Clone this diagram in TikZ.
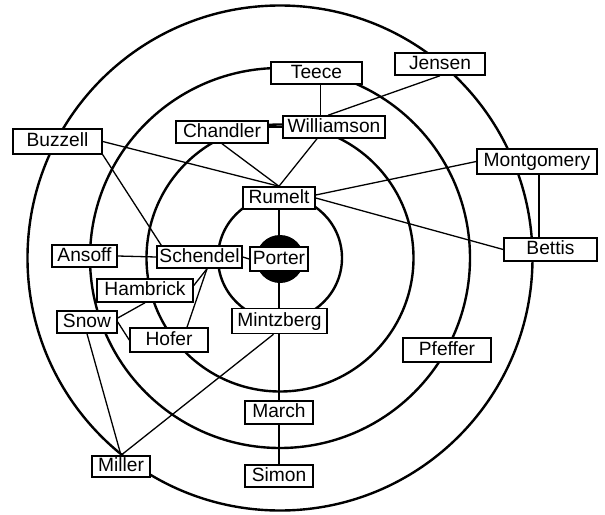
\documentclass[tikz,border=0pt]{standalone}
\usepackage{fontspec}
\setmainfont{Liberation Sans}
\begin{document}
\begin{tikzpicture}[x=0.5pt,y=-0.5pt,
  box/.style={draw,line width=0.75pt,fill=white,inner sep=0pt,
              minimum height=11pt,text height=7pt,text depth=2pt,
              font=\fontsize{9.6}{11}\selectfont},
  ring/.style={line width=1.2pt},
  link/.style={line width=0.65pt}]
  \useasboundingbox (0,0) rectangle (605,514);
  % the four circles and the black core
  \coordinate (ctr) at (280,258);
  \draw[ring] (ctr) circle[radius=31pt] (ctr) circle[radius=66.75pt]
              (ctr) circle[radius=95pt] (ctr) circle[radius=126.25pt];
  \fill (280,259) circle[radius=12pt];
  % names
  \node[box,minimum width=45.5pt] (teece) at (316.5,73) {Teece};
  \node[box,minimum width=45pt] (jensen) at (440,64) {Jensen};
  \node[box,minimum width=46pt] (chandler) at (222,132) {Chandler};
  \node[box,minimum width=51pt] (williamson) at (334,127) {Williamson};
  \node[box,minimum width=44.5pt,minimum height=12.5pt] (buzzell) at (57.5,141.5) {Buzzell};
  \node[box,minimum width=60pt,minimum height=12.5pt] (montgomery) at (537,161.5) {Montgomery};
  \node[box,minimum width=36pt] (rumelt) at (279,198) {Rumelt};
  \node[box,minimum width=46.5pt,minimum height=11.5pt] (bettis) at (550.5,249.5) {Bettis};
  \node[box,minimum width=32.5pt] (ansoff) at (84.5,256) {Ansoff};
  \node[box,minimum width=42.5pt] (schendel) at (199.5,257) {Schendel};
  \node[box,minimum width=29pt,minimum height=12pt] (porter) at (279,259) {Porter};
  \node[box,minimum width=48pt,minimum height=11.5pt] (hambrick) at (145,290.5) {Hambrick};
  \node[box,minimum width=30pt] (snow) at (87,322) {Snow};
  \node[box,minimum width=39pt,minimum height=12pt] (hofer) at (169,340) {Hofer};
  \node[box,minimum width=47.5pt,minimum height=12.5pt] (mintzberg) at (279.5,321) {Mintzberg};
  \node[box,minimum width=44pt,minimum height=12pt] (pfeffer) at (447,350) {Pfeffer};
  \node[box,minimum width=34pt,minimum height=11.5pt] (march) at (279,412.5) {March};
  \node[box,minimum width=29pt,minimum height=10.5pt] (miller) at (121,466.5) {Miller};
  \node[box,minimum width=34pt] (simon) at (279,476) {Simon};
  % links
  \draw[link] ([xshift=2pt]teece.south) -- ([xshift=2pt]teece.south |- williamson.north);
  \draw[link] (williamson.west) -- (williamson.west -| chandler.east);
  \draw[link] (jensen.south) -- ([xshift=-3pt]williamson.north);
  \draw[link] (chandler.south) -- (rumelt.north); \draw[link] ([xshift=-8.5pt]williamson.south) -- (rumelt.north);
  \draw[link] (buzzell.east) -- (rumelt.north); \draw[link] (buzzell.south east) -- ([xshift=2.5pt]schendel.north west);
  \draw[link] (montgomery.west) -- ([yshift=1.5pt]rumelt.east); \draw[link] (rumelt.east) -- (bettis.west);
  \draw[link] ([xshift=1pt]montgomery.south) -- ([xshift=1pt]montgomery.south |- bettis.north);
  \draw[link] (rumelt.south) -- (porter.north); \draw[link] (porter.south) -- (porter.south |- mintzberg.north);
  \draw[link] (mintzberg.south -| march.north) -- (march.north); \draw[link] (march.south) -- (simon.north);
  \draw[link] (ansoff.east) -- (schendel.west); \draw[link] (schendel.east) -- (porter.west);
  \draw[link] ([xshift=3.75pt]schendel.south) -- ([yshift=2.5pt]hambrick.east);
  \draw[link] ([xshift=3.75pt]schendel.south) -- ([xshift=9pt]hofer.north);
  \draw[link] ([yshift=2pt]snow.east) -- (hambrick.south); \draw[link] (snow.east) -- (hofer.west);
  \draw[link] (snow.south) -- (miller.north); \draw[link] ([xshift=-3pt]mintzberg.south) -- (miller.north);
\end{tikzpicture}
\end{document}
